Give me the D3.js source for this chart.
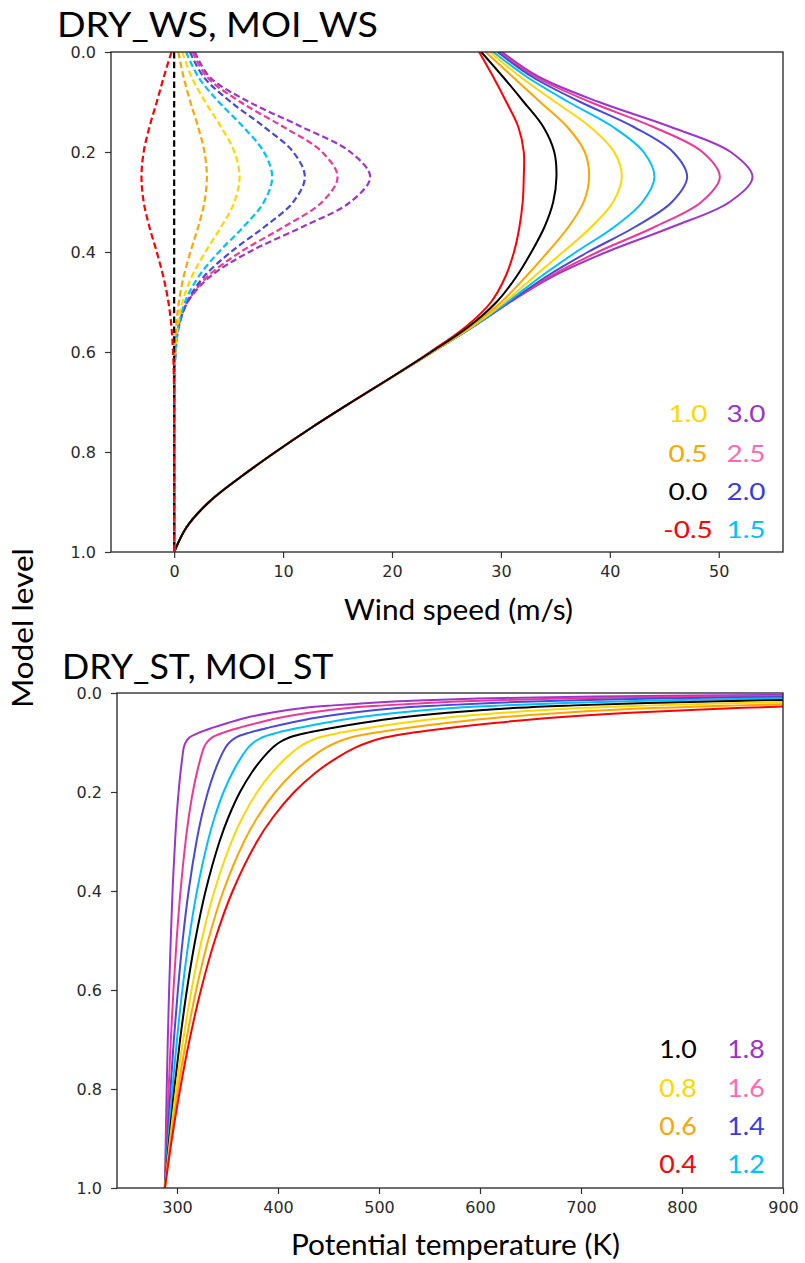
<!DOCTYPE html>
<html>
<head>
<meta charset="utf-8">
<script src="https://cdn.jsdelivr.net/npm/d3@7"></script>
<style>
  body { margin: 0; background: #fff; }
  svg { display: block; }
</style>
</head>
<body>
<svg id="fig" width="805" height="1263"></svg>
<script>
// ---------------- Wind-speed profiles (model level η: 0 = top, 1 = surface) ----------------
const windLevels = [0, 0.05, 0.1, 0.15, 0.2, 0.25, 0.3, 0.35, 0.4, 0.45, 0.5,
                    0.55, 0.6, 0.65, 0.7, 0.75, 0.8, 0.85, 0.9, 0.95, 1.0];
const windLabels = ["-0.5", "0.0", "0.5", "1.0", "1.5", "2.0", "2.5", "3.0"];

// total wind speed (solid), m/s
const wsSolidM05 = [28.0, 29.3, 30.5, 31.6, 32.1, 32.1, 32.0, 31.7, 31.2, 30.4, 29.1, 26.75, 23.5, 19.97, 16.3, 12.7, 9.3, 6.1, 3.2, 1.15, 0];
const wsSolid00  = [28.2, 30.2, 32.1, 33.9, 34.9, 35.1, 34.8, 34.0, 32.8, 31.4, 29.6, 27.0, 23.6, 20.0, 16.3, 12.7, 9.3, 6.1, 3.2, 1.15, 0];
const wsSolid05  = [28.6, 31.1, 33.6, 36.1, 37.7, 38.1, 37.6, 36.2, 34.3, 32.26, 30.03, 27.18, 23.67, 20.02, 16.3, 12.7, 9.3, 6.1, 3.2, 1.15, 0];
const wsSolid10  = [29.0, 31.8, 35.0, 38.2, 40.4, 41.1, 40.3, 38.3, 35.7, 33.0, 30.36, 27.31, 23.7, 20.03, 16.3, 12.7, 9.3, 6.1, 3.2, 1.15, 0];
const wsSolid15  = [29.3, 32.4, 36.2, 40.3, 43.1, 44.1, 43.0, 40.4, 36.9, 33.62, 30.6, 27.39, 23.73, 20.03, 16.3, 12.7, 9.3, 6.1, 3.2, 1.15, 0];
const wsSolid20  = [29.7, 32.9, 37.3, 42.2, 45.8, 47.1, 45.7, 42.3, 38.0, 34.11, 30.78, 27.42, 23.73, 20.03, 16.3, 12.7, 9.3, 6.1, 3.2, 1.15, 0];
const wsSolid25  = [29.9, 33.2, 38.2, 44.0, 48.5, 50.1, 48.4, 44.1, 38.9, 34.42, 30.83, 27.4, 23.71, 20.02, 16.3, 12.7, 9.3, 6.1, 3.2, 1.15, 0];
const wsSolid30  = [30.1, 33.5, 39.0, 45.6, 51.1, 53.1, 51.0, 45.7, 39.7, 34.66, 30.84, 27.39, 23.7, 20.02, 16.3, 12.7, 9.3, 6.1, 3.2, 1.15, 0];

// jet perturbation (dashed), m/s
const wsDashM05 = [-0.25, -0.95, -1.6, -2.27, -2.8, -3.0, -2.8, -2.27, -1.6, -0.99, -0.53, -0.25, -0.1, -0.03, 0, 0, 0, 0, 0, 0, 0];
const wsDash00  = [0, 0, 0, 0, 0, 0, 0, 0, 0, 0, 0, 0, 0, 0, 0, 0, 0, 0, 0, 0, 0];
const wsDash05  = [0.38, 0.86, 1.49, 2.2, 2.78, 3.0, 2.78, 2.2, 1.49, 0.86, 0.43, 0.18, 0.07, 0.02, 0, 0, 0, 0, 0, 0, 0];
const wsDash10  = [0.75, 1.6, 2.86, 4.31, 5.53, 6.0, 5.53, 4.31, 2.86, 1.6, 0.76, 0.31, 0.1, 0.03, 0, 0, 0, 0, 0, 0, 0];
const wsDash15  = [1.1, 2.22, 4.1, 6.35, 8.24, 9.0, 8.24, 6.35, 4.1, 2.22, 1.0, 0.39, 0.13, 0.03, 0, 0, 0, 0, 0, 0, 0];
const wsDash20  = [1.45, 2.71, 5.2, 8.27, 10.93, 12.0, 10.93, 8.27, 5.2, 2.71, 1.18, 0.42, 0.13, 0.03, 0, 0, 0, 0, 0, 0, 0];
const wsDash25  = [1.7, 3.02, 6.09, 10.05, 13.58, 15.0, 13.58, 10.05, 6.09, 3.02, 1.23, 0.4, 0.11, 0.02, 0, 0, 0, 0, 0, 0, 0];
const wsDash30  = [1.9, 3.26, 6.88, 11.74, 16.18, 18.0, 16.18, 11.74, 6.88, 3.26, 1.24, 0.39, 0.1, 0.02, 0, 0, 0, 0, 0, 0, 0];

const windTicks = [0, 10, 20, 30, 40, 50];

// ---------------- Potential-temperature profiles (K) ----------------
const thetaLevels = [1.0, 0.9, 0.8, 0.7, 0.6, 0.5, 0.4, 0.3, 0.25, 0.2, 0.16, 0.13, 0.11, 0.1,
                     0.09, 0.08, 0.07, 0.06, 0.05, 0.04, 0.03, 0.025, 0.02, 0.015, 0.01,
                     0.007, 0.005, 0.003];
const thetaLabels = ["0.4", "0.6", "0.8", "1.0", "1.2", "1.4", "1.6", "1.8"];

const th04 = [288, 295.0, 303.1, 312.5, 323.7, 337.4, 355.1, 379.2, 395.4, 416.1, 437.8, 459.1, 477.0, 489.0,
              505.4, 533.5, 571.2, 616.4, 671.0, 748.4, 860.1, 950.3, 1070.4, 1248.5, 1567.7, 1924.7, 2339.7, 3150.9];
const th06 = [288, 294.1, 301.1, 309.3, 319.0, 330.8, 345.9, 366.4, 380.0, 397.4, 415.5, 433.1, 447.9, 457.9,
              471.8, 496.4, 529.4, 568.8, 616.1, 682.6, 778.1, 855.3, 957.1, 1107.2, 1374.5, 1670.3, 2011.0, 2668.9];
const th08 = [288, 293.2, 299.2, 306.2, 314.4, 324.3, 337.0, 354.0, 365.2, 379.5, 394.3, 408.6, 420.4, 428.7,
              440.4, 461.9, 490.6, 524.8, 565.4, 622.6, 703.9, 769.6, 856.1, 982.1, 1205.2, 1449.5, 1728.6, 2260.8];
const th10 = [288, 292.4, 297.3, 303.1, 309.8, 318.0, 328.3, 342.1, 351.1, 362.4, 374.2, 385.5, 394.8, 401.3,
              411.2, 429.6, 454.8, 484.3, 519.1, 567.8, 636.9, 692.7, 765.5, 871.2, 1056.4, 1258.0, 1485.6, 1915.2];
const th12 = [288, 291.5, 295.4, 300.0, 305.3, 311.7, 319.8, 330.5, 337.4, 346.1, 355.1, 363.6, 370.7, 375.8,
              383.8, 399.8, 421.5, 446.9, 476.6, 518.0, 576.2, 623.4, 684.5, 772.6, 926.3, 1091.8, 1277.0, 1622.3];
const th14 = [288, 290.6, 293.6, 296.9, 300.9, 305.6, 311.5, 319.3, 324.3, 330.6, 337.0, 343.0, 348.0, 351.9,
              358.2, 371.9, 390.6, 412.4, 437.5, 472.5, 521.3, 561.0, 612.1, 685.2, 812.1, 947.3, 1097.5, 1374.0];
const th16 = [288, 289.7, 291.7, 293.9, 296.5, 299.6, 303.5, 308.5, 311.7, 315.7, 319.8, 323.6, 326.7, 329.5,
              334.5, 346.0, 362.1, 380.6, 401.6, 430.9, 471.5, 505.0, 547.4, 607.7, 711.9, 822.2, 943.6, 1164.1];
const th18 = [288, 288.9, 289.8, 290.9, 292.2, 293.8, 295.6, 298.1, 299.6, 301.6, 303.5, 305.3, 306.7, 308.5,
              312.2, 321.9, 335.6, 351.1, 368.6, 393.0, 426.7, 454.4, 489.6, 539.0, 624.2, 713.6, 810.9, 986.0];

const thetaTicks = [300, 400, 500, 600, 700, 800, 900];
const levelTicks = [0, 0.2, 0.4, 0.6, 0.8, 1.0];

// ---------------- styling ----------------
const lineColors  = ["#ff0000", "#000000", "#ffa500", "#ffd700", "#00bfff", "#4848dc", "#ee3796", "#9b35cc"];
const labelColors = ["#ff0000", "#000000", "#ffa500", "#ffd700", "#00bfff", "#3a3ae0", "#ff69b4", "#9933cc"];
const thetaLineColors  = ["#ff0000", "#ffa500", "#ffd700", "#000000", "#00bfff", "#4848dc", "#ee3796", "#9b35cc"];
const thetaLabelColors = ["#ff0000", "#ffa500", "#ffd700", "#000000", "#00bfff", "#3a3ae0", "#ff69b4", "#9933cc"];

const TEXT_FONT = "Lato, 'Open Sans', sans-serif";
const TICK_FONT = "'DejaVu Sans', sans-serif";

const svg = d3.select("#fig");

// Text sized by cap height, with its horizontal extent set explicitly.
function fittedText(parent, opt) {
  const t = parent.append("text")
    .attr("font-family", TEXT_FONT)
    .attr("font-size", opt.size)
    .attr("fill", opt.fill || "#000")
    .text(opt.text);
  const natural = t.node().getComputedTextLength();
  const w = opt.width != null ? opt.width : natural * (opt.factor || 1);
  t.attr("textLength", w).attr("lengthAdjust", "spacingAndGlyphs");
  const x0 = opt.anchor === "middle" ? -w / 2 : opt.anchor === "end" ? -w : 0;
  t.attr("x", x0).attr("y", 0)
   .attr("transform", `translate(${opt.x},${opt.y}) rotate(${opt.rotate || 0})`);
  return t;
}

function measure(text, size) {
  const t = svg.append("text").attr("font-family", TEXT_FONT).attr("font-size", size).text(text);
  const w = t.node().getComputedTextLength();
  t.remove();
  return w;
}

function drawPanel(p) {
  const g = svg.append("g");
  const x = d3.scaleLinear().domain(p.xDomain).range([p.left, p.right]);
  const y = d3.scaleLinear().domain([0, 1]).range([p.top, p.bottom]);

  const clipId = "clip-" + p.id;
  svg.append("clipPath").attr("id", clipId)
    .append("rect").attr("x", p.left).attr("y", p.top)
    .attr("width", p.right - p.left).attr("height", p.bottom - p.top);

  const plot = g.append("g").attr("clip-path", `url(#${clipId})`);
  const line = d3.line()
    .x(d => x(d[0])).y(d => y(d[1]))
    .curve(d3.curveCatmullRom.alpha(0.5));

  p.layers.forEach(layer => {
    layer.order.forEach(i => {
      const pts = layer.series[i].map((v, k) => [v, p.levels[k]]);
      plot.append("path")
        .attr("d", line(pts))
        .attr("fill", "none")
        .attr("stroke", p.lineColors[i])
        .attr("stroke-width", layer.width)
        .attr("stroke-dasharray", layer.dash || null)
        .attr("stroke-linejoin", "round");
    });
  });

  // axes
  const xAxis = g.append("g").attr("transform", `translate(0,${p.bottom})`)
    .call(d3.axisBottom(x).tickValues(p.xTicks).tickSize(6).tickPadding(8).tickFormat(d3.format("d")));
  const yAxis = g.append("g").attr("transform", `translate(${p.left},0)`)
    .call(d3.axisLeft(y).tickValues(levelTicks).tickSize(6).tickPadding(9).tickFormat(d3.format(".1f")));
  [xAxis, yAxis].forEach(a => {
    a.select(".domain").remove();
    a.selectAll(".tick line").attr("stroke", "#333").attr("stroke-width", 1.2);
    a.selectAll(".tick text").attr("font-family", TICK_FONT).attr("font-size", 16).attr("fill", "#2a2a2a");
  });

  // frame
  g.append("rect")
    .attr("x", p.left).attr("y", p.top)
    .attr("width", p.right - p.left).attr("height", p.bottom - p.top)
    .attr("fill", "none").attr("stroke", "#222").attr("stroke-width", 1.3);

  // colour key
  const base = measure(p.keyProbe, p.keySize);
  const factor = p.keyProbeWidth / base;
  p.labels.forEach((lab, i) => {
    const col = i < 4 ? 0 : 1;
    const row = 3 - (i % 4);
    fittedText(g, {
      text: lab, size: p.keySize, factor: factor,
      x: p.keyCols[col], y: p.keyRows[row], anchor: "middle",
      fill: p.labelColors[i]
    });
  });
}

// upper panel: wind speed
drawPanel({
  id: "ws",
  left: 111, right: 783, top: 52, bottom: 552,
  xDomain: [-5.8, 55.9], xTicks: windTicks,
  levels: windLevels,
  lineColors: lineColors, labelColors: labelColors, labels: windLabels,
  layers: [
    { series: [wsSolidM05, wsSolid00, wsSolid05, wsSolid10, wsSolid15, wsSolid20, wsSolid25, wsSolid30],
      order: [7, 6, 5, 4, 3, 2, 0, 1], width: 2 },
    { series: [wsDashM05, wsDash00, wsDash05, wsDash10, wsDash15, wsDash20, wsDash25, wsDash30],
      order: [7, 6, 5, 4, 3, 2, 1, 0], width: 2.2, dash: "6.5,3.3" }
  ],
  keySize: 23.5, keyProbe: "3.0", keyProbeWidth: 39,
  keyCols: [688, 746], keyRows: [422, 461.5, 500, 537.5]
});

// lower panel: potential temperature
drawPanel({
  id: "st",
  left: 117, right: 783, top: 693, bottom: 1188,
  xDomain: [240.6, 900], xTicks: thetaTicks,
  levels: thetaLevels,
  lineColors: thetaLineColors, labelColors: thetaLabelColors, labels: thetaLabels,
  layers: [
    { series: [th04, th06, th08, th10, th12, th14, th16, th18],
      order: [7, 6, 5, 4, 3, 2, 1, 0], width: 2 }
  ],
  keySize: 25.5, keyProbe: "1.8", keyProbeWidth: 37.3,
  keyCols: [678, 746], keyRows: [1058, 1097, 1135, 1173]
});

// titles and axis labels
fittedText(svg, { text: "DRY_WS, MOI_WS", size: 35, width: 321, x: 57, y: 37 });
fittedText(svg, { text: "DRY_ST, MOI_ST", size: 34, width: 271.5, x: 62, y: 679 });
fittedText(svg, { text: "Wind speed (m/s)", size: 28, width: 229, x: 344, y: 620 });
fittedText(svg, { text: "Potential temperature (K)", size: 28, width: 329, x: 291, y: 1255 });
fittedText(svg, { text: "Model level", size: 28.5, width: 160, x: 33, y: 708, rotate: -90 });
</script>
</body>
</html>
